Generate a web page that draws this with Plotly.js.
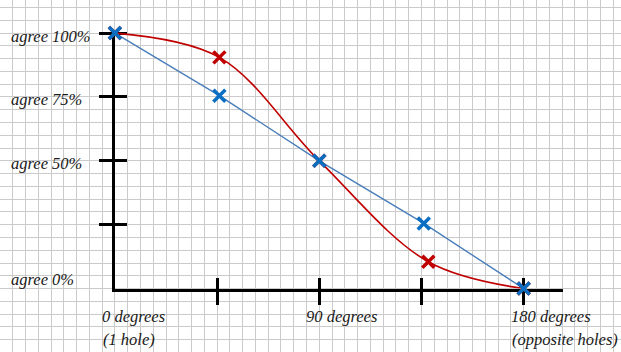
<!DOCTYPE html>
<html>
<head>
<meta charset="utf-8">
<script src="https://cdn.plot.ly/plotly-3.0.1.min.js"></script>
<style>html,body{margin:0;padding:0;background:#fff;}#chart{width:621px;height:352px;}</style>
</head>
<body>
<div id="chart"></div>
<script>
// ---- data ----
var tickDegrees = [45, 90, 135, 180];
var tickPercents = [25, 50, 75, 100];
var yLabelValues = [0, 50, 75, 100];
var yLabelTexts = ["agree 0%", "agree 50%", "agree 75%", "agree 100%"];
var xLabelValues = [0, 90, 180];
var xLabelLine1 = ["0 degrees", "90 degrees", "180 degrees"];
var xLabelLine2 = ["(1 hole)", "", "(opposite holes)"];

var blueX = [0, 46, 90, 136, 180];
var blueY = [100, 75.5, 50, 25.5, 0];
var redX = [0, 46, 90, 138, 180];
var redY = [100, 90.5, 50, 10.5, 0];

// ---- geometry (pixels) ----
var W = 621, H = 352;
var cell = 12.775;
var pxPerDeg = cell * 8 / 45;
var pxPerPct = cell / 5;
var X0 = 114.9, Y0 = 288.6;     // origin pixel
var axisRightPx = 563, axisTopPx = 30;

var fontFam = "Liberation Serif";
var labelFont = {family: fontFam, size: 16.5, color: "#1a1a1a", style: "italic"};

var traces = [
  {x: [], y: [], xaxis: "x", yaxis: "y", type: "scatter", hoverinfo: "skip"},
  {x: blueX, y: blueY, xaxis: "x2", yaxis: "y2", mode: "lines", type: "scatter",
   line: {color: "#4a7ebb", width: 1.4}, hoverinfo: "skip"},
  {x: redX, y: redY, xaxis: "x2", yaxis: "y2", mode: "lines", type: "scatter",
   line: {color: "#c00000", width: 1.6, shape: "spline", smoothing: 1}, hoverinfo: "skip"},
  {x: redX, y: redY, xaxis: "x2", yaxis: "y2", mode: "markers", type: "scatter",
   marker: {symbol: "x-thin-open", size: 12, color: "#c00000", line: {color: "#c00000", width: 3.5}}, cliponaxis: false, hoverinfo: "skip"},
  {x: blueX, y: blueY, xaxis: "x2", yaxis: "y2", mode: "markers", type: "scatter",
   marker: {symbol: "x-thin-open", size: 12, color: "#0a6fc2", line: {color: "#0a6fc2", width: 3.5}}, cliponaxis: false, hoverinfo: "skip"},
  {x: [], y: [], xaxis: "x3", yaxis: "y3", type: "scatter", hoverinfo: "skip"}
];

var xRange2 = [0, (axisRightPx - X0) / pxPerDeg];
var yRange2 = [0, (Y0 - axisTopPx) / pxPerPct];
var xDom2 = [X0 / W, axisRightPx / W];
var yDom2 = [(H - Y0) / H, (H - axisTopPx) / H];

var blankAxis = {showgrid: false, zeroline: false, showline: false, showticklabels: false, ticks: "", fixedrange: true};

function ext(base, more) { var o = {}; for (var k in base) o[k] = base[k]; for (var k2 in more) o[k2] = more[k2]; return o; }

var annotations = [];
for (var i = 0; i < xLabelValues.length; i++) {
  annotations.push({xref: "x2", yref: "y2", x: xLabelValues[i], y: 0, text: xLabelLine1[i], showarrow: false,
    xanchor: "left", yanchor: "middle", xshift: -15, yshift: -28, font: labelFont});
  if (xLabelLine2[i]) annotations.push({xref: "x2", yref: "y2", x: xLabelValues[i], y: 0, text: xLabelLine2[i], showarrow: false,
    xanchor: "left", yanchor: "middle", xshift: -14, yshift: -51, font: labelFont});
}
for (var j = 0; j < yLabelValues.length; j++) {
  annotations.push({xref: "paper", yref: "y2", x: 9 / W, y: yLabelValues[j], text: yLabelTexts[j], showarrow: false,
    xanchor: "left", yanchor: "middle", yshift: yLabelValues[j] === 0 ? 9 : -3, font: labelFont});
}

var layout = {
  width: W, height: H,
  margin: {l: 0, r: 0, t: 0, b: 0, pad: 0},
  paper_bgcolor: "#ffffff",
  plot_bgcolor: "rgba(0,0,0,0)",
  showlegend: false,
  // graph paper
  xaxis: ext(blankAxis, {domain: [0, 1], range: [-X0 / pxPerDeg, (W - X0) / pxPerDeg], showgrid: true,
    tick0: 0, dtick: 45 / 8, gridcolor: "#cbcbcb", gridwidth: 1, anchor: "y"}),
  yaxis: ext(blankAxis, {domain: [0, 1], range: [-(H - Y0) / pxPerPct, Y0 / pxPerPct], showgrid: true,
    tick0: 0, dtick: 5, gridcolor: "#cbcbcb", gridwidth: 1, anchor: "x"}),
  // data axes
  xaxis2: ext(blankAxis, {domain: xDom2, range: xRange2, anchor: "y2", showline: true, linecolor: "#000", linewidth: 3,
    ticks: "outside", ticklen: 13, tickwidth: 3, tickcolor: "#000", tickmode: "array", tickvals: tickDegrees, layer: "below traces"}),
  yaxis2: ext(blankAxis, {domain: yDom2, range: yRange2, anchor: "x2", showline: true, linecolor: "#000", linewidth: 3,
    ticks: "outside", ticklen: 13, tickwidth: 3, tickcolor: "#000", tickmode: "array", tickvals: tickPercents, layer: "below traces"}),
  xaxis3: ext(blankAxis, {overlaying: "x2", range: xRange2, anchor: "y3", ticks: "inside", ticklen: 11, tickwidth: 3,
    tickcolor: "#000", tickmode: "array", tickvals: tickDegrees, layer: "below traces"}),
  yaxis3: ext(blankAxis, {overlaying: "y2", range: yRange2, anchor: "x3", ticks: "inside", ticklen: 12, tickwidth: 3,
    tickcolor: "#000", tickmode: "array", tickvals: tickPercents, layer: "below traces"}),
  annotations: annotations
};

Plotly.newPlot("chart", traces, layout, {staticPlot: true, displayModeBar: false});
</script>
</body>
</html>
